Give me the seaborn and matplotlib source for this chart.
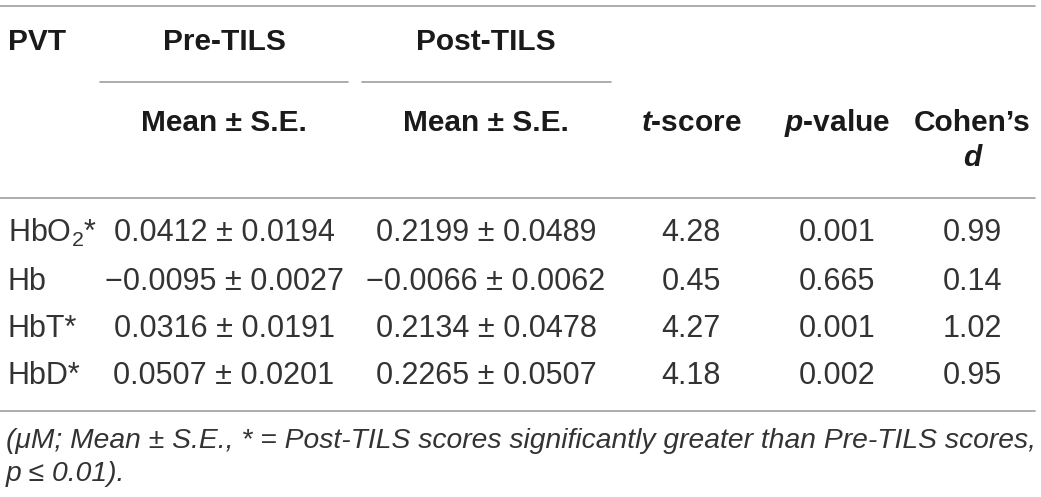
import matplotlib
matplotlib.use("Agg")
import matplotlib.pyplot as plt
import seaborn as sns
from matplotlib import font_manager

# ---- data ----
pvt = ["HbO$_2$*", "Hb", "HbT*", "HbD*"]
pre_mean = ["0.0412", "\u22120.0095", "0.0316", "0.0507"]
pre_se = ["0.0194", "0.0027", "0.0191", "0.0201"]
post_mean = ["0.2199", "\u22120.0066", "0.2134", "0.2265"]
post_se = ["0.0489", "0.0062", "0.0478", "0.0507"]
t_score = ["4.28", "0.45", "4.27", "4.18"]
p_value = ["0.001", "0.665", "0.001", "0.002"]
cohens_d = ["0.99", "0.14", "1.02", "0.95"]
footnote = ["(\u03bcM; Mean \u00b1 S.E., * = Post-TILS scores significantly greater than Pre-TILS scores,",
            "p \u2264 0.01)."]

sns.set_theme(style="white")

names = {f.name for f in font_manager.fontManager.ttflist}
def pick(cands):
    for c in cands:
        if c in names:
            return c
    return 'DejaVu Sans'

main = pick(['Nimbus Sans', 'Nimbus Sans L', 'Liberation Sans'])
foot_cands = [c for c in ['Nimbus Sans Narrow', 'Liberation Sans Narrow', 'Arial Narrow',
                          'Archivo Narrow', 'Barlow Semi Condensed', 'Asap Condensed',
                          'Roboto Condensed', 'Open Sans Condensed', main] if c in names] or [main]

plt.rcParams['font.family'] = [main, 'DejaVu Sans']
plt.rcParams['mathtext.fontset'] = 'custom'
plt.rcParams['mathtext.rm'] = main
plt.rcParams['mathtext.it'] = f'{main}:italic:bold'
plt.rcParams['mathtext.default'] = 'regular'

W, H = 1041, 497
fig = plt.figure(figsize=(W / 100, H / 100), dpi=100)
ax = fig.add_axes([0, 0, 1, 1])
ax.set_xlim(0, W)
ax.set_ylim(H, 0)
ax.axis('off')

FS = 22
HFS = 21.5
hdr_col = '#1a1a1a'
txt_col = '#333333'
line_col = '#a6a6a6'

# rules
ax.plot([0, 1035], [5.5, 5.5], color=line_col, lw=1.3)
ax.plot([100, 348], [82, 82], color=line_col, lw=1.3)
ax.plot([362, 611], [82, 82], color=line_col, lw=1.3)
ax.plot([0, 1035], [198, 198], color=line_col, lw=1.3)
ax.plot([0, 1035], [411, 411], color=line_col, lw=1.3)

col_pre, col_post, col_t, col_p, col_d = 224, 486, 691, 837, 972

# header
hkw = dict(fontsize=HFS, fontweight='bold', color=hdr_col, va='center')
ax.text(8, 42, "PVT", ha='left', **hkw)
ax.text(col_pre, 42, "Pre-TILS", ha='center', **hkw)
ax.text(col_post, 42, "Post-TILS", ha='center', **hkw)
ax.text(col_pre, 123, "Mean \u00b1 S.E.", ha='center', **hkw)
ax.text(col_post, 123, "Mean \u00b1 S.E.", ha='center', **hkw)
ax.text(col_t, 123, "$\\it{t}$-score", ha='center', **hkw)
ax.text(col_p, 123, "$\\it{p}$-value", ha='center', **hkw)
ax.text(col_d, 123, "Cohen\u2019s", ha='center', **hkw)
ax.text(col_d, 158, "d", ha='center', fontstyle='italic', **hkw)

# rows
row_y = [233, 282, 329, 376]
dkw = dict(fontsize=FS, color=txt_col, va='center')
for i, y in enumerate(row_y):
    ax.text(8, y, pvt[i], ha='left', **dkw)
    ax.text(col_pre, y, f"{pre_mean[i]} \u00b1 {pre_se[i]}", ha='center', **dkw)
    ax.text(col_post, y, f"{post_mean[i]} \u00b1 {post_se[i]}", ha='center', **dkw)
    ax.text(col_t, y, t_score[i], ha='center', **dkw)
    ax.text(col_p, y, p_value[i], ha='center', **dkw)
    ax.text(col_d, y, cohens_d[i], ha='center', **dkw)

# footnote: fit the first line to the table width, choosing the family whose
# fitted size is closest to the body size
renderer = fig.canvas.get_renderer()
target = 1026
best = None
for fam in foot_cands:
    t = ax.text(6, 441, footnote[0], fontsize=FS, fontstyle='italic', family=[fam, 'DejaVu Sans'])
    w = t.get_window_extent(renderer).width
    t.remove()
    size = FS * target / w
    if best is None or abs(size - FS) < abs(best[1] - FS):
        best = (fam, size)
fam, fsize = best

fkw = dict(fontsize=fsize, color=txt_col, va='center', ha='left', fontstyle='italic', family=[fam, 'DejaVu Sans'])
ax.text(6, 441, footnote[0], **fkw)
ax.text(6, 474, footnote[1], **fkw)

fig.savefig("out.png", dpi=100, facecolor='white')
